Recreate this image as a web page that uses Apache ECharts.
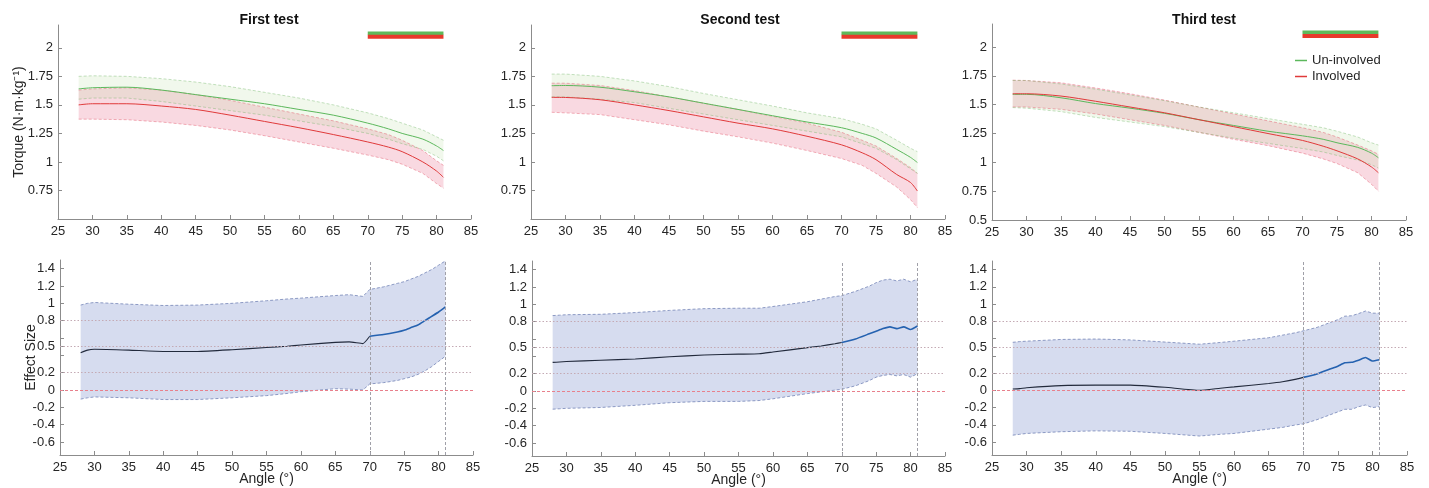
<!DOCTYPE html>
<html><head><meta charset="utf-8">
<script src="https://cdn.jsdelivr.net/npm/echarts@6/dist/echarts.min.js"></script>
<style>html,body{margin:0;padding:0;background:#fff}#c{width:1429px;height:488px}</style>
</head><body><div id="c"></div>
<script>
// ---------- DATA ----------
const TITLES = ['First test', 'Second test', 'Third test'];
const ANGLE_T = [28, 30, 35, 40, 45, 50, 55, 60, 65, 70, 73, 75, 78, 80, 81];
// First test torque
const T1_UNI_MEAN = [1.64, 1.65, 1.655, 1.63, 1.59, 1.55, 1.51, 1.46, 1.41, 1.34, 1.29, 1.25, 1.20, 1.14, 1.10];
const T1_UNI_UP   = [1.75, 1.755, 1.75, 1.73, 1.70, 1.66, 1.61, 1.56, 1.50, 1.43, 1.38, 1.34, 1.28, 1.22, 1.19];
const T1_UNI_LO   = [1.55, 1.56, 1.56, 1.53, 1.49, 1.45, 1.41, 1.36, 1.31, 1.25, 1.20, 1.16, 1.11, 1.05, 1.01];
const T1_INV_MEAN = [1.50, 1.51, 1.51, 1.49, 1.46, 1.41, 1.355, 1.30, 1.24, 1.175, 1.13, 1.09, 1.00, 0.92, 0.865];
const T1_INV_UP   = [1.63, 1.64, 1.65, 1.63, 1.59, 1.54, 1.48, 1.42, 1.36, 1.29, 1.24, 1.19, 1.10, 1.01, 0.97];
const T1_INV_LO   = [1.375, 1.375, 1.37, 1.35, 1.32, 1.28, 1.23, 1.175, 1.12, 1.06, 1.02, 0.98, 0.90, 0.81, 0.77];
// Second test torque
const T2_UNI_MEAN = [1.668, 1.67, 1.655, 1.615, 1.57, 1.515, 1.46, 1.405, 1.35, 1.30, 1.25, 1.21, 1.11, 1.04, 0.995];
const T2_UNI_UP   = [1.77, 1.77, 1.75, 1.71, 1.66, 1.60, 1.545, 1.49, 1.43, 1.38, 1.33, 1.29, 1.19, 1.12, 1.09];
const T2_UNI_LO   = [1.57, 1.57, 1.55, 1.52, 1.47, 1.42, 1.37, 1.32, 1.27, 1.22, 1.16, 1.12, 1.02, 0.94, 0.90];
const T2_INV_MEAN = [1.566, 1.565, 1.545, 1.50, 1.45, 1.395, 1.34, 1.29, 1.225, 1.15, 1.08, 1.02, 0.89, 0.82, 0.745];
const T2_INV_UP   = [1.69, 1.69, 1.67, 1.625, 1.57, 1.515, 1.46, 1.40, 1.34, 1.26, 1.19, 1.14, 1.03, 0.95, 0.90];
const T2_INV_LO   = [1.435, 1.43, 1.415, 1.37, 1.325, 1.27, 1.22, 1.165, 1.10, 1.03, 0.97, 0.90, 0.78, 0.67, 0.60];
// Third test torque
const T3_UNI_MEAN = [1.59, 1.59, 1.56, 1.51, 1.47, 1.425, 1.37, 1.32, 1.27, 1.23, 1.20, 1.17, 1.13, 1.08, 1.04];
const T3_UNI_UP   = [1.71, 1.71, 1.68, 1.635, 1.585, 1.535, 1.48, 1.43, 1.38, 1.33, 1.30, 1.27, 1.22, 1.17, 1.15];
const T3_UNI_LO   = [1.475, 1.47, 1.44, 1.39, 1.35, 1.31, 1.26, 1.21, 1.165, 1.12, 1.09, 1.06, 1.02, 0.98, 0.95];
const T3_INV_MEAN = [1.595, 1.595, 1.575, 1.53, 1.48, 1.43, 1.37, 1.31, 1.25, 1.19, 1.14, 1.10, 1.03, 0.96, 0.91];
const T3_INV_UP   = [1.713, 1.71, 1.69, 1.645, 1.595, 1.54, 1.48, 1.42, 1.36, 1.30, 1.26, 1.22, 1.15, 1.10, 1.07];
const T3_INV_LO   = [1.48, 1.48, 1.46, 1.42, 1.37, 1.32, 1.26, 1.20, 1.145, 1.08, 1.03, 0.99, 0.91, 0.81, 0.75];
// Significant region (both groups)
const SIG_RANGE = [70, 81];
const SIG_UNI_LEVEL = 2.128;
const SIG_INV_LEVEL = 2.097;

const ANGLE_E = [28, 29, 30, 35, 40, 45, 50, 55, 58, 60, 65, 67, 69, 70, 72, 74, 75, 76, 77, 78, 79, 80, 81];
const E1_MEAN = [0.43, 0.46, 0.47, 0.46, 0.445, 0.445, 0.465, 0.49, 0.505, 0.52, 0.55, 0.555, 0.535, 0.62, 0.64, 0.67, 0.69, 0.72, 0.75, 0.80, 0.85, 0.90, 0.96];
const E1_UP   = [0.98, 1.00, 1.01, 0.99, 0.975, 0.98, 1.00, 1.03, 1.05, 1.06, 1.09, 1.10, 1.08, 1.16, 1.19, 1.23, 1.25, 1.28, 1.31, 1.35, 1.39, 1.44, 1.49];
const E1_LO   = [-0.105, -0.09, -0.08, -0.09, -0.11, -0.11, -0.09, -0.065, -0.04, -0.02, 0.015, 0.01, 0.0, 0.07, 0.085, 0.11, 0.13, 0.15, 0.18, 0.22, 0.27, 0.33, 0.39];
const E2_MEAN = [0.33, 0.335, 0.34, 0.355, 0.37, 0.395, 0.415, 0.425, 0.43, 0.45, 0.50, 0.52, 0.545, 0.56, 0.60, 0.66, 0.69, 0.72, 0.74, 0.72, 0.74, 0.71, 0.75];
const E2_UP   = [0.87, 0.875, 0.88, 0.885, 0.905, 0.93, 0.95, 0.955, 0.955, 0.975, 1.03, 1.06, 1.09, 1.10, 1.15, 1.21, 1.25, 1.28, 1.29, 1.27, 1.29, 1.26, 1.29];
const E2_LO   = [-0.21, -0.205, -0.20, -0.19, -0.165, -0.135, -0.12, -0.12, -0.11, -0.09, -0.03, -0.01, 0.01, 0.02, 0.06, 0.12, 0.16, 0.18, 0.19, 0.175, 0.19, 0.16, 0.20];
const E3_MEAN = [0.015, 0.02, 0.03, 0.055, 0.06, 0.06, 0.035, 0.0, 0.025, 0.04, 0.08, 0.10, 0.13, 0.15, 0.19, 0.25, 0.28, 0.32, 0.325, 0.35, 0.38, 0.34, 0.355];
const E3_UP   = [0.557, 0.565, 0.57, 0.59, 0.595, 0.585, 0.56, 0.535, 0.555, 0.57, 0.61, 0.64, 0.67, 0.69, 0.73, 0.79, 0.82, 0.86, 0.865, 0.89, 0.92, 0.895, 0.895];
const E3_LO   = [-0.52, -0.51, -0.50, -0.48, -0.47, -0.475, -0.50, -0.53, -0.51, -0.50, -0.45, -0.43, -0.40, -0.39, -0.34, -0.28, -0.25, -0.22, -0.22, -0.19, -0.17, -0.20, -0.19];

const X_TICKS_MIN = 25, X_TICKS_MAX = 85, X_TICK_STEP = 5;
const TORQUE_TICKS_A = [0.75, 1, 1.25, 1.5, 1.75, 2];
const TORQUE_TICKS_B = [0.5, 0.75, 1, 1.25, 1.5, 1.75, 2];
const ES_TICKS = [-0.6, -0.4, -0.2, 0, 0.2, 0.4, 0.5, 0.6, 0.8, 1, 1.2, 1.4];
const ES_LABELS = [-0.6, -0.4, -0.2, 0, 0.2, 0.5, 0.8, 1, 1.2, 1.4];
const ES_REF_LINES = [0.8, 0.5, 0.2];
const ES_ZERO = 0;
const ES_VLINES = [70, 81];

// ---------- BUILD ----------
const FONT = 'Liberation Sans, Arial, Helvetica, sans-serif';
const AX = '#8c8c8c', TXT = '#262626';
const pairs = (xs, ys) => xs.map((x, i) => [x, ys[i]]);

const grids = [
  {left: 58, top: 25, width: 413, height: 194},
  {left: 531, top: 25, width: 414, height: 194},
  {left: 992, top: 24, width: 414, height: 196},
  {left: 60, top: 260, width: 413, height: 195},
  {left: 532, top: 261, width: 413, height: 195},
  {left: 992, top: 261, width: 415, height: 194}
];

const xAxes = grids.map((g, i) => ({
  type: 'value', gridIndex: i, min: X_TICKS_MIN, max: X_TICKS_MAX, interval: X_TICK_STEP,
  axisLine: {show: true, onZero: false, lineStyle: {color: AX, width: 1}},
  axisTick: {show: true, inside: true, length: 4, lineStyle: {color: AX}},
  axisLabel: {color: TXT, fontSize: 13, fontFamily: FONT, margin: 6},
  splitLine: {show: false},
  name: i >= 3 ? 'Angle (°)' : '',
  nameLocation: 'middle', nameGap: 17, nameMoveOverlap: false,
  nameTextStyle: {color: TXT, fontSize: 14, fontFamily: FONT}
}));

const yAxes = grids.map((g, i) => {
  const top = i < 3;
  const ticks = top ? (i === 2 ? TORQUE_TICKS_B : TORQUE_TICKS_A) : ES_TICKS;
  const labels = top ? ticks : ES_LABELS;
  return {
    type: 'value', gridIndex: i,
    min: top ? 0.5 : -0.75, max: top ? 2.2 : 1.5,
    axisLine: {show: true, onZero: false, lineStyle: {color: AX, width: 1}},
    axisTick: {show: true, inside: true, length: 4, lineStyle: {color: AX}, customValues: ticks},
    axisLabel: {color: TXT, fontSize: 13, fontFamily: FONT, margin: 5, customValues: labels},
    splitLine: {show: false},
    name: i === 0 ? 'Torque (N·m·kg⁻¹)' : (i === 3 ? 'Effect Size' : ''),
    nameLocation: 'middle', nameGap: i === 0 ? 32 : 22, nameMoveOverlap: false,
    nameTextStyle: {color: TXT, fontSize: 14, fontFamily: FONT}
  };
});

const series = [];
const GREEN = '#5cb85c', RED = '#e03a3a';
function band(gi, xs, lo, up, edge, fill, smooth) {
  // filled region between lower and upper bounds, positioned through the axes' scales
  series.push({
    type: 'custom', name: 'band', xAxisIndex: gi, yAxisIndex: gi, silent: true, z: 1,
    data: [[xs[0], lo[0]]],
    renderItem: function (params, api) {
      const pts = xs.map((x, i) => api.coord([x, up[i]]))
        .concat(xs.slice().reverse().map((x, j) => api.coord([x, lo[xs.length - 1 - j]])));
      return {type: 'polygon', shape: {points: pts}, style: {fill: fill, stroke: null}};
    }
  });
  [lo, up].forEach(arr => series.push({
    type: 'line', name: 'bandEdge', xAxisIndex: gi, yAxisIndex: gi, data: pairs(xs, arr),
    symbol: 'none', smooth: smooth, silent: true, z: 2,
    lineStyle: {color: edge, width: 0.8, type: [3, 2]}
  }));
}
function meanLine(gi, xs, ys, name, color, w) {
  series.push({
    type: 'line', name: name, xAxisIndex: gi, yAxisIndex: gi, data: pairs(xs, ys),
    symbol: 'none', smooth: 0.3, z: 3, color: color, itemStyle: {color: color},
    lineStyle: {color: color, width: w}
  });
}
const torque = [
  [T1_UNI_MEAN, T1_UNI_UP, T1_UNI_LO, T1_INV_MEAN, T1_INV_UP, T1_INV_LO],
  [T2_UNI_MEAN, T2_UNI_UP, T2_UNI_LO, T2_INV_MEAN, T2_INV_UP, T2_INV_LO],
  [T3_UNI_MEAN, T3_UNI_UP, T3_UNI_LO, T3_INV_MEAN, T3_INV_UP, T3_INV_LO]
];
torque.forEach((t, gi) => {
  band(gi, ANGLE_T, t[5], t[4], 'rgba(225,80,100,0.55)', 'rgba(232,95,130,0.24)', 0);
  band(gi, ANGLE_T, t[2], t[1], 'rgba(110,180,100,0.5)', 'rgba(185,220,160,0.2)', 0);
  meanLine(gi, ANGLE_T, t[0], 'Un-involved', GREEN, 1);
  meanLine(gi, ANGLE_T, t[3], 'Involved', RED, 1);
  series.push({type: 'line', name: 'sigU', xAxisIndex: gi, yAxisIndex: gi, symbol: 'none', z: 4,
    data: SIG_RANGE.map(x => [x, SIG_UNI_LEVEL]), lineStyle: {color: '#5fb95a', width: 3.5, cap: 'butt'}});
  series.push({type: 'line', name: 'sigI', xAxisIndex: gi, yAxisIndex: gi, symbol: 'none', z: 4,
    data: SIG_RANGE.map(x => [x, SIG_INV_LEVEL]), lineStyle: {color: '#e8392c', width: 4, cap: 'butt'}});
});

const effects = [[E1_MEAN, E1_UP, E1_LO], [E2_MEAN, E2_UP, E2_LO], [E3_MEAN, E3_UP, E3_LO]];
effects.forEach((e, k) => {
  const gi = k + 3;
  band(gi, ANGLE_E, e[2], e[1], '#7484b6', '#d6dcef', 0);
  const refLines = ES_REF_LINES.map(v => ({yAxis: v, lineStyle: {color: '#c4aab4', type: [1.5, 2], width: 1}}))
    .concat([{yAxis: ES_ZERO, lineStyle: {color: '#e8808c', type: [3, 2], width: 1}}])
    .concat(ES_VLINES.map(v => ({xAxis: v, lineStyle: {color: '#a0a0a8', type: [3, 2], width: 1}})));
  series.push({
    type: 'line', name: 'es', xAxisIndex: gi, yAxisIndex: gi, symbol: 'none', smooth: 0.15, z: 3,
    data: ANGLE_E.map((x, i) => [x, e[0][i]]).filter(p => p[0] <= ES_VLINES[0]),
    lineStyle: {color: '#222a3c', width: 1.1},
    markLine: {silent: true, symbol: ['none', 'none'], label: {show: false}, animation: false, data: refLines}
  });
  series.push({
    type: 'line', name: 'es2', xAxisIndex: gi, yAxisIndex: gi, symbol: 'none', smooth: 0.15, z: 3,
    data: ANGLE_E.map((x, i) => [x, e[0][i]]).filter(p => p[0] >= ES_VLINES[0]),
    lineStyle: {color: '#2562b0', width: 1.6}
  });
});

const titleX = [264, 735, 1199];
const option = {
  animation: false,
  backgroundColor: '#fff',
  title: TITLES.map((t, i) => ({
    text: t, left: titleX[i], top: 8, textAlign: 'center',
    textStyle: {fontSize: 14, fontWeight: 'bold', color: '#111', fontFamily: FONT}
  })),
  legend: {
    data: ['Un-involved', 'Involved'], orient: 'vertical', left: 1290, top: 49,
    icon: 'rect', itemWidth: 12, itemHeight: 1.5, itemGap: 3,
    textStyle: {fontSize: 13, color: TXT, fontFamily: FONT}
  },
  grid: grids,
  xAxis: xAxes,
  yAxis: yAxes,
  series: series
};
const chart = echarts.init(document.getElementById('c'), null, {renderer: 'canvas'});
chart.setOption(option);
</script></body></html>
